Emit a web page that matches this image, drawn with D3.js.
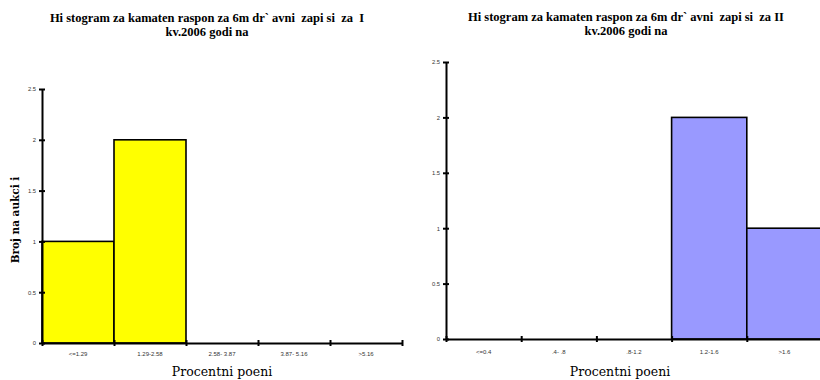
<!DOCTYPE html>
<html>
<head>
<meta charset="utf-8">
<script src="https://cdn.jsdelivr.net/npm/d3@7"></script>
<style>
  html, body { margin: 0; padding: 0; background: #fff; }
  svg { display: block; }
</style>
</head>
<body>
<svg id="chart" width="820" height="380"></svg>
<script>
// ---- data ----
const titleLeft = ["Hi stogram za kamaten raspon za 6m dr` avni  zapi si  za  I", "kv.2006 godi na"];
const titleRight = ["Hi stogram za kamaten raspon za 6m dr` avni  zapi si  za II", "kv.2006 godi na"];
const categoriesLeft = ["<=1.29", "1.29-2.58", "2.58- 3.87", "3.87- 5.16", ">5.16"];
const valuesLeft = [1, 2, 0, 0, 0];
const categoriesRight = ["<=0.4", ".4- .8", ".8-1.2", "1.2-1.6", ">1.6"];
const valuesRight = [0, 0, 0, 2, 1];
const yTicks = [0, 0.5, 1, 1.5, 2, 2.5];
const yTickLabels = ["0", "0.5", "1", "1.5", "2", "2.5"];
const xAxisTitle = "Procentni poeni";
const yAxisTitle = "Broj na aukci i";

const svg = d3.select("#chart");

function drawPanel(cfg) {
  const g = svg.append("g");
  const x = d3.scaleBand().domain(cfg.categories).range([cfg.x0, cfg.x1]).paddingInner(0).paddingOuter(0);
  const xb = d3.scaleLinear().domain([0, cfg.categories.length]).range([cfg.x0, cfg.x1]);
  const y = d3.scaleLinear().domain([0, 2.5]).range([cfg.y0, cfg.y1]);

  // bars
  g.selectAll("rect.bar").data(cfg.values.map((v, i) => ({c: cfg.categories[i], v})).filter(d => d.v > 0))
    .enter().append("rect")
    .attr("x", d => x(d.c))
    .attr("y", d => y(d.v))
    .attr("width", x.bandwidth())
    .attr("height", d => y(0) - y(d.v))
    .attr("fill", cfg.color)
    .attr("stroke", "#000")
    .attr("stroke-width", 1.6);

  // x axis line + boundary ticks
  const xa = g.append("g").attr("transform", `translate(0,${y(0)})`)
    .call(d3.axisBottom(xb).tickValues(d3.range(0, cfg.categories.length + 1)).tickSize(0).tickFormat(""));
  xa.select(".domain").attr("stroke", "#000").attr("stroke-width", 2);
  xa.selectAll(".tick line").attr("y1", -3).attr("y2", 3).attr("stroke", "#000").attr("stroke-width", 2);

  // x category labels
  const xl = g.append("g").attr("transform", `translate(0,${y(0)})`)
    .call(d3.axisBottom(x).tickSize(0).tickPadding(cfg.xLabelPad));
  xl.select(".domain").remove();
  xl.selectAll("text").attr("font-family", "Liberation Sans, Arial, sans-serif")
    .attr("font-size", 6).attr("fill", "#333");

  // y axis
  const ya = g.append("g").attr("transform", `translate(${cfg.x0},0)`)
    .call(d3.axisLeft(y).tickValues(yTicks).tickSize(0).tickPadding(6)
      .tickFormat((d, i) => yTickLabels[i]));
  ya.select(".domain").attr("stroke", "#000").attr("stroke-width", 2);
  ya.selectAll(".tick line").attr("x1", -3).attr("x2", 3).attr("stroke", "#000").attr("stroke-width", 2);
  ya.selectAll("text").attr("font-family", "Liberation Sans, Arial, sans-serif")
    .attr("font-size", 5.8).attr("fill", "#333");

  // title
  cfg.title.forEach((t, i) => {
    g.append("text").attr("x", cfg.titleX).attr("y", cfg.titleY + i * 14)
      .attr("text-anchor", "middle")
      .attr("font-family", "Liberation Serif, Times New Roman, serif")
      .attr("font-weight", "bold").attr("font-size", 12.5)
      .attr("fill", "#000")
      .style("white-space", "pre")
      .text(t);
  });

  // x title
  g.append("text").attr("x", cfg.xTitleX).attr("y", cfg.xTitleY)
    .attr("text-anchor", "middle")
    .attr("font-family", "DejaVu Serif, serif")
    .attr("font-size", 12.5).attr("fill", "#000")
    .text(xAxisTitle);

  if (cfg.yTitle) {
    g.append("text")
      .attr("transform", `translate(${cfg.yTitleX},${cfg.yTitleY}) rotate(-90)`)
      .attr("text-anchor", "middle")
      .attr("font-family", "DejaVu Serif, serif")
      .attr("font-weight", "bold")
      .attr("font-size", 10.5).attr("fill", "#000")
      .text(cfg.yTitle);
  }
}

drawPanel({
  categories: categoriesLeft, values: valuesLeft, color: "#FFFF00",
  x0: 42, x1: 402, y0: 343, y1: 89, xLabelPad: 9,
  title: titleLeft, titleX: 207, titleY: 22,
  xTitleX: 222, xTitleY: 376,
  yTitle: yAxisTitle, yTitleX: 19, yTitleY: 220
});

drawPanel({
  categories: categoriesRight, values: valuesRight, color: "#9999FF",
  x0: 446, x1: 822, y0: 339, y1: 62, xLabelPad: 11,
  title: titleRight, titleX: 626, titleY: 21,
  xTitleX: 620, xTitleY: 376
});
</script>
</body>
</html>
